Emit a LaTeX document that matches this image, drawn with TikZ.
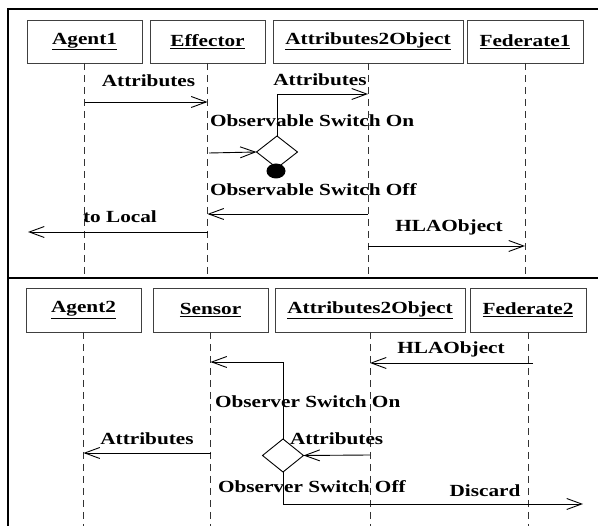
\documentclass[tikz,border=0pt]{standalone}
\usepackage{fontspec}
\setmainfont{Liberation Serif}[FakeStretch=1.25]
\usetikzlibrary{arrows.meta,shapes.geometric}
\begin{document}
\begin{tikzpicture}[x=1pt,y=-1pt,
  every node/.style={font=\fontsize{17}{20}\selectfont\bfseries, inner sep=0pt, outer sep=0pt},
  objbox/.style={draw=black!75, line width=0.9pt, minimum height=43pt},
  lifeline/.style={draw=black!80, line width=0.9pt, dash pattern=on 7pt off 5pt},
  msg/.style={draw=black, line width=0.9pt, -{Straight Barb[length=15pt,width=11pt,line width=0.9pt]}},
  lbl/.style={anchor=base},
  lblw/.style={anchor=base west},
  sw/.style={diamond, draw=black, line width=0.9pt, minimum width=41pt, minimum height=32pt, inner sep=0pt, outer sep=0pt},
  frameline/.style={draw=black, line width=1.8pt}
]
\useasboundingbox (0,0) rectangle (598,526);
% frame
\coordinate (fTL) at (8,9);
\coordinate (fTR) at (598,9);
\coordinate (fBL) at (8,526);
\coordinate (dL) at (8,278);
\coordinate (dR) at (598,278);
\draw[frameline] (fBL) -- (fTL) -- (fTR);
\draw[frameline] (dL) -- (dR);

% ---------- top panel ----------
\node[objbox, minimum width=115pt] (ag1) at (84.5,41.5) {\underline{Agent1}};
\node[objbox, minimum width=115pt] (eff) at (207.5,41.5) {\underline{Effector}};
\node[objbox, minimum width=190pt] (ao1) at (368,41.5) {\underline{Attributes2Object}};
\node[objbox, minimum width=116pt] (fed1) at (525,41.5) {\underline{Federate1}};

\coordinate (ag1e) at (84.5,278);
\coordinate (effe) at (207.5,278);
\coordinate (ao1e) at (368,278);
\coordinate (fed1e) at (525,278);
\draw[lifeline] (ag1.south) -- (ag1e);
\draw[lifeline] (eff.south) -- (effe);
\draw[lifeline] (ao1.south) -- (ao1e);
\draw[lifeline] (fed1.south) -- (fed1e);

% messages
\coordinate (m1a) at (84.5,102);
\coordinate (m1b) at (207.5,102);
\draw[msg] (m1a) -- (m1b);
\node[lbl] (l1) at (148.5,87) {Attributes};

\node[sw] (d1) at (277,152) {};
\fill[black] (276,171) ellipse (9.5pt and 7.5pt);
\node[minimum width=0pt] (dot1) at (276,171) {};

\coordinate (m2k) at (277,94);
\coordinate (m2b) at (368,94);
\draw[msg] (d1.north) -- (m2k) -- (m2b);
\node[lbl] (l2) at (320,86) {Attributes};

\node[lblw] (l3) at (210,127) {Observable Switch On};

\coordinate (m3a) at (209,153);
\draw[msg] (m3a) -- (d1.west);

\node[lblw] (l4) at (210,196) {Observable Switch Off};

\coordinate (m4a) at (368,214);
\coordinate (m4b) at (207.5,214);
\draw[msg] (m4a) -- (m4b);

\coordinate (m5a) at (207.5,232);
\coordinate (m5b) at (28,232);
\draw[msg] (m5a) -- (m5b);
\node[lbl] (l5) at (120,223) {to Local};

\coordinate (m6a) at (368,246);
\coordinate (m6b) at (525,246);
\draw[msg] (m6a) -- (m6b);
\node[lbl] (l6) at (449,232) {HLAObject};

% ---------- bottom panel ----------
\node[objbox, minimum width=115pt, minimum height=44pt] (ag2) at (83.5,310) {\underline{Agent2}};
\node[objbox, minimum width=115pt, minimum height=44pt] (sen) at (210.5,310) {\underline{Sensor}};
\node[objbox, minimum width=190pt, minimum height=44pt] (ao2) at (370,310) {\underline{Attributes2Object}};
\node[objbox, minimum width=116pt, minimum height=44pt] (fed2) at (528,310) {\underline{Federate2}};

\coordinate (ag2e) at (83.5,526);
\coordinate (sene) at (210.5,526);
\coordinate (ao2e) at (370,526);
\coordinate (fed2e) at (528,526);
\draw[lifeline] (ag2.south) -- (ag2e);
\draw[lifeline] (sen.south) -- (sene);
\draw[lifeline] (ao2.south) -- (ao2e);
\draw[lifeline] (fed2.south) -- (fed2e);

\coordinate (m7a) at (533,363);
\coordinate (m7b) at (370,363);
\draw[msg] (m7a) -- (m7b);
\node[lbl] (l7) at (451,354) {HLAObject};

\node[sw, minimum height=33pt] (d2) at (283,455.5) {};

\coordinate (m8k) at (283,362);
\coordinate (m8b) at (210.5,362);
\draw[msg] (d2.north) -- (m8k) -- (m8b);

\node[lblw] (l8) at (215,408) {Observer Switch On};

\coordinate (m9a) at (370,455);
\draw[msg] (m9a) -- (d2.east);
\node[lblw] (l9) at (290,445) {Attributes};

\coordinate (m10a) at (210.5,453);
\coordinate (m10b) at (83.5,453);
\draw[msg] (m10a) -- (m10b);
\node[lbl] (l10) at (147,445) {Attributes};

\node[lblw] (l11) at (218,493) {Observer Switch Off};

\coordinate (m11k) at (283,504);
\coordinate (m11b) at (583,504);
\draw[msg] (d2.south) -- (m11k) -- (m11b);
\node[lbl] (l12) at (485,497) {Discard};
\end{tikzpicture}
\end{document}
